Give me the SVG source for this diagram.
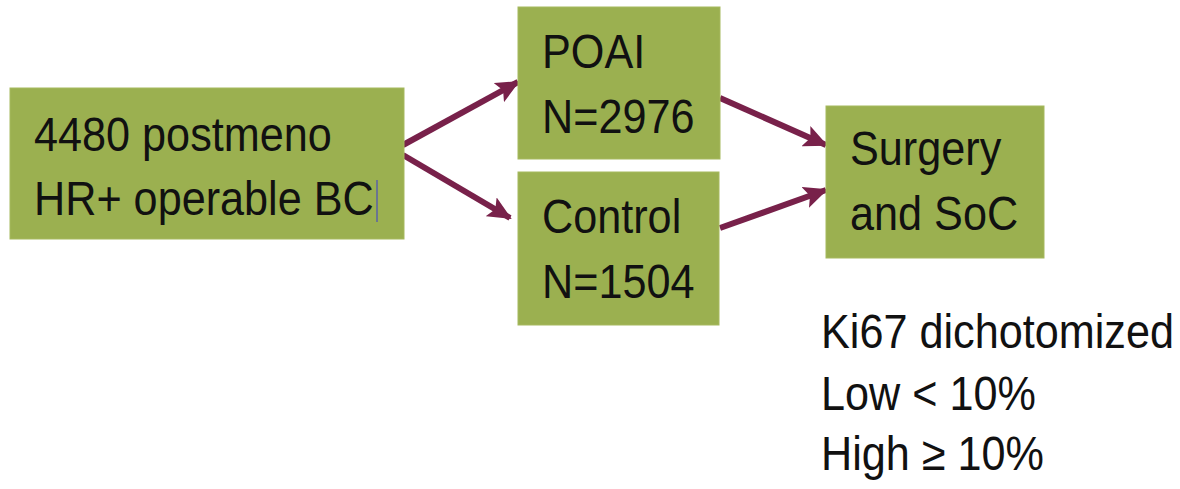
<svg xmlns="http://www.w3.org/2000/svg" width="1180" height="489" viewBox="0 0 1180 489">
  <style>
    .box { fill: #9bb050; stroke: #a6b95e; stroke-width: 1; }
    .lbl { font-family: "Liberation Sans", Arial, sans-serif; font-size: 48px; fill: #111111; }
    .conn { stroke: #78214a; stroke-width: 6; fill: none; marker-end: url(#head); }
  </style>
  <defs>
    <marker id="head" markerUnits="userSpaceOnUse" markerWidth="24" markerHeight="22" viewBox="0 0 24 22" refX="22" refY="11" orient="auto">
      <path d="M0,0 L24,11 L0,22 L5,11 Z" fill="#78214a"/>
    </marker>
  </defs>
  <rect width="1180" height="489" fill="#ffffff"/>

  <g id="connectors">
    <line class="conn" x1="403" y1="145" x2="518" y2="82"/>
    <line class="conn" x1="403" y1="155" x2="510" y2="218"/>
    <line class="conn" x1="720" y1="98" x2="826" y2="145"/>
    <line class="conn" x1="720" y1="228" x2="826" y2="190"/>
  </g>

  <!-- labels use a slightly narrowed face: matrix(0.9 0 0 1 x y) -->
  <g id="cohort">
    <rect class="box" x="10" y="88" width="394" height="151"/>
    <text class="lbl" transform="matrix(0.9 0 0 1 34 151)">4480 postmeno</text>
    <text class="lbl" transform="matrix(0.9 0 0 1 34 215)">HR+ operable BC</text>
    <line x1="377" y1="180" x2="377" y2="222" stroke="#3a3ad0" stroke-width="1"/>
  </g>

  <g id="poai">
    <rect class="box" x="518" y="7" width="202" height="152"/>
    <text class="lbl" transform="matrix(0.9 0 0 1 542 68)">POAI</text>
    <text class="lbl" transform="matrix(0.9 0 0 1 542 133)">N=2976</text>
  </g>

  <g id="control">
    <rect class="box" x="518" y="172" width="201" height="153"/>
    <text class="lbl" transform="matrix(0.9 0 0 1 542 233)">Control</text>
    <text class="lbl" transform="matrix(0.9 0 0 1 542 298)">N=1504</text>
  </g>

  <g id="surgery">
    <rect class="box" x="826" y="106" width="218" height="152"/>
    <text class="lbl" transform="matrix(0.9 0 0 1 850 165)">Surgery</text>
    <text class="lbl" transform="matrix(0.9 0 0 1 850 230)">and SoC</text>
  </g>

  <g id="ki67-note">
    <text class="lbl" transform="matrix(0.9 0 0 1 821 348)">Ki67 dichotomized</text>
    <text class="lbl" transform="matrix(0.9 0 0 1 821 410)">Low &lt; 10%</text>
    <text class="lbl" transform="matrix(0.9 0 0 1 821 470)">High ≥ 10%</text>
  </g>
</svg>
